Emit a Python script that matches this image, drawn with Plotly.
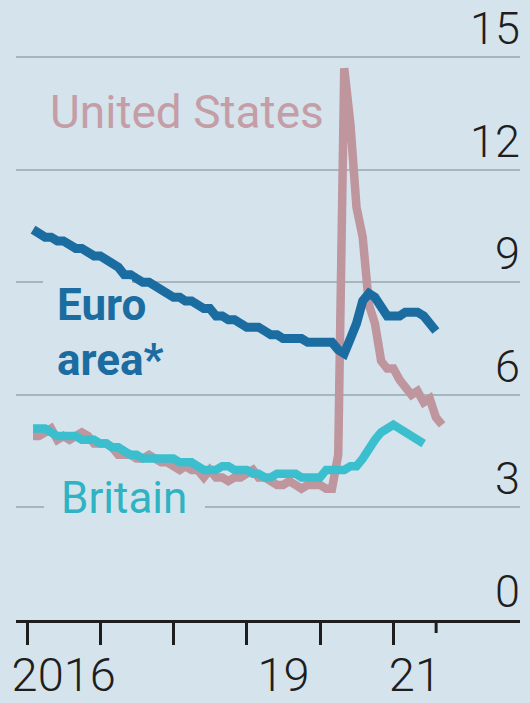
import pandas as pd
import plotly.graph_objects as go

# ---- data (monthly unemployment rate, %) ----
us_values = [
    4.9, 4.9, 5.0, 5.1, 4.8, 4.9, 4.8, 4.9, 5.0, 4.9, 4.7, 4.7,
    4.7, 4.6, 4.4, 4.4, 4.4, 4.3, 4.3, 4.4, 4.3, 4.2, 4.2, 4.1,
    4.0, 4.1, 4.0, 4.0, 3.8, 4.0, 3.8, 3.8, 3.7, 3.8, 3.8, 3.9,
    4.0, 3.8, 3.8, 3.7, 3.6, 3.6, 3.7, 3.6, 3.5, 3.6, 3.6, 3.6,
    3.5, 3.5, 4.4, 14.7, 13.2, 11.0, 10.2, 8.4, 7.9, 6.9, 6.7, 6.7,
    6.4, 6.2, 6.0, 6.1, 5.8, 5.9, 5.4, 5.2,
]
euro_values = [
    10.4, 10.3, 10.2, 10.2, 10.1, 10.1, 10.0, 9.9, 9.9, 9.8, 9.7, 9.7,
    9.6, 9.5, 9.4, 9.2, 9.2, 9.1, 9.0, 9.0, 8.9, 8.8, 8.7, 8.6,
    8.6, 8.5, 8.5, 8.4, 8.3, 8.3, 8.1, 8.1, 8.0, 8.0, 7.9, 7.8,
    7.8, 7.8, 7.7, 7.6, 7.6, 7.5, 7.5, 7.5, 7.5, 7.4, 7.4, 7.4,
    7.4, 7.4, 7.2, 7.1, 7.5, 7.9, 8.5, 8.7, 8.6, 8.3, 8.1, 8.1,
    8.1, 8.2, 8.2, 8.2, 8.1, 7.9, 7.7,
]
britain_values = [
    5.1, 5.1, 5.1, 5.0, 4.9, 4.9, 4.9, 4.9, 4.8, 4.8, 4.8, 4.7,
    4.7, 4.6, 4.6, 4.5, 4.4, 4.4, 4.3, 4.3, 4.3, 4.3, 4.3, 4.3,
    4.2, 4.2, 4.2, 4.1, 4.0, 4.0, 4.0, 4.1, 4.1, 4.0, 4.0, 4.0,
    3.9, 3.9, 3.8, 3.8, 3.9, 3.9, 3.9, 3.9, 3.8, 3.8, 3.8, 3.8,
    4.0, 4.0, 4.0, 4.0, 4.1, 4.1, 4.3, 4.6, 4.8, 5.0, 5.1, 5.2,
    5.1, 5.0, 4.9, 4.8, 4.7,
]
first_month = "2016-01"

year_ticks = ["2016-01-01", "2017-01-01", "2018-01-01", "2019-01-01",
              "2020-01-01", "2021-01-01"]
latest_tick = "2021-08-01"
x_label_positions = ["2016-07-02", "2019-07-02", "2021-04-17"]
x_label_text = ["2016", "19", "21"]
y_tick_values = [0, 3, 6, 9, 12, 15]
y_tick_text = ["0", "3", "6", "9", "12", "15"]

# ---- styling ----
BG = "#d5e4ec"
US_COLOR = "#bf959e"
EURO_COLOR = "#1b6ca1"
UK_COLOR = "#3bbfce"
GRID = "#a7b6bd"
INK = "#1e1e1e"
LABEL_FONT = "Roboto, 'Open Sans', sans-serif"
TICK_FONT = "Roboto, 'Open Sans', sans-serif"


def month_ends(n):
    start = pd.Period(first_month, freq="M")
    return [(start + i).end_time.normalize() for i in range(n)]


fig = go.Figure()
fig.add_trace(go.Scatter(x=month_ends(len(us_values)), y=us_values, mode="lines",
                         line=dict(color=US_COLOR, width=8.5), name="United States"))
fig.add_trace(go.Scatter(x=month_ends(len(britain_values)), y=britain_values, mode="lines",
                         line=dict(color=UK_COLOR, width=8.5), name="Britain"))
fig.add_trace(go.Scatter(x=month_ends(len(euro_values)), y=euro_values, mode="lines",
                         line=dict(color=EURO_COLOR, width=9), name="Euro area*"))

# plot-area geometry
W, H = 530, 703
ML, MR, MT, MB = 16, 10, 2, 83
plot_w = W - ML - MR
plot_h = H - MT - MB
px_per_day = 73.3 / 365.25
origin = pd.Timestamp(year_ticks[0])
x_range = [origin - pd.Timedelta(days=round(11 / px_per_day)),
           origin + pd.Timedelta(days=round((plot_w - 11) / px_per_day))]
y_max = plot_h / 37.53


def px(xp):
    return (xp - ML) / plot_w


def py(yp):
    return (H - MB - yp) / plot_h


fig.update_layout(
    width=W, height=H, autosize=False,
    margin=dict(l=ML, r=MR, t=MT, b=MB, pad=0),
    paper_bgcolor=BG, plot_bgcolor=BG,
    showlegend=False,
    xaxis=dict(
        range=x_range, type="date",
        tickmode="array", tickvals=x_label_positions, ticktext=x_label_text,
        ticks="", showgrid=False, zeroline=False,
        showline=True, linecolor=INK, linewidth=3,
        tickfont=dict(family=TICK_FONT, size=47, color=INK, weight=300),
        ticklabelstandoff=12,
        minor=dict(tickmode="array", tickvals=year_ticks, ticks="outside",
                   ticklen=22, tickwidth=3, tickcolor=INK, showgrid=False),
    ),
    yaxis=dict(
        range=[0, y_max], side="right",
        tickmode="array", tickvals=y_tick_values,
        showticklabels=False, ticks="",
        showgrid=True, gridcolor=GRID, gridwidth=2, zeroline=False,
    ),
)

# right-hand value labels sitting above their gridlines
for v, t in zip(y_tick_values, y_tick_text):
    fig.add_annotation(text=t, xref="paper", yref="y", x=1, y=v,
                       xanchor="right", yanchor="bottom", showarrow=False,
                       xshift=2, yshift=0,
                       font=dict(family=TICK_FONT, size=45, color=INK, weight=300))

# short tick marking the latest data
fig.add_shape(type="line", xref="x", yref="paper", x0=latest_tick, x1=latest_tick,
              y0=0, y1=-13 / plot_h, line=dict(color=INK, width=3))

# label backgrounds interrupting gridlines
fig.add_shape(type="rect", xref="paper", yref="y", x0=px(43), x1=px(132), y0=8.93, y1=9.07,
              fillcolor=BG, line=dict(width=0), layer="above")
fig.add_shape(type="rect", xref="paper", yref="y", x0=px(44), x1=px(205), y0=2.93, y1=3.07,
              fillcolor=BG, line=dict(width=0), layer="above")

# series labels
fig.add_annotation(text="United States", xref="paper", yref="paper", x=px(48), y=py(112),
                   xanchor="left", yanchor="middle", showarrow=False,
                   font=dict(family=LABEL_FONT, size=46, color="#c49da7"))
fig.add_annotation(text="<b>Euro</b>", xref="paper", yref="paper", x=px(55), y=py(305),
                   xanchor="left", yanchor="middle", showarrow=False,
                   font=dict(family=LABEL_FONT, size=44, color=EURO_COLOR))
fig.add_annotation(text="<b>area*</b>", xref="paper", yref="paper", x=px(55), y=py(360),
                   xanchor="left", yanchor="middle", showarrow=False,
                   font=dict(family=LABEL_FONT, size=44, color=EURO_COLOR))
fig.add_annotation(text="Britain", xref="paper", yref="paper", x=px(59), y=py(498),
                   xanchor="left", yanchor="middle", showarrow=False,
                   font=dict(family=LABEL_FONT, size=44, color="#2fb3c3"))

fig.write_html(
    "out.html",
    config={"displayModeBar": False},
    post_script="document.body.style.margin='0px';"
                "document.body.style.background='" + BG + "';",
)
